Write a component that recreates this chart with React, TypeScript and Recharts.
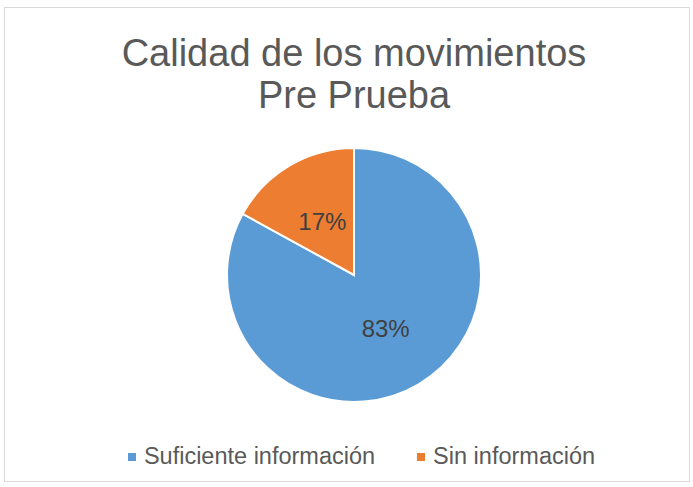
import React from 'react';
import { PieChart, Pie, Cell, Legend } from 'recharts';

const title = ['Calidad de los movimientos', 'Pre Prueba'];
const categories = ['Suficiente información', 'Sin información'];
const values = [83, 17];
const colors = ['#5B9BD5', '#ED7D31'];

const data = categories.map((name, i) => ({ name, value: values[i] }));

const RADIAN = Math.PI / 180;
const FONT = '"Liberation Sans", Arial, sans-serif';

const renderLabel = (props: any) => {
  const { cx, cy, midAngle, outerRadius, percent } = props;
  const r = outerRadius * 0.49;
  const x = cx + r * Math.cos(-midAngle * RADIAN);
  const y = cy + r * Math.sin(-midAngle * RADIAN);
  return (
    <text x={x} y={y} fill="#404040" fontSize={24} fontFamily={FONT}
      textAnchor="middle" dominantBaseline="central">
      {`${Math.round(percent * 100)}%`}
    </text>
  );
};

const renderLegend = (props: any) => {
  // keep the series order, not alphabetical
  const items = [...props.payload].sort(
    (a: any, b: any) => categories.indexOf(a.value) - categories.indexOf(b.value)
  );
  return (
    <div style={{ display: 'flex', justifyContent: 'center', paddingLeft: 30, fontFamily: FONT }}>
      {items.map((entry: any, index: number) => (
        <div key={index} style={{ display: 'flex', alignItems: 'center', marginRight: index === 0 ? 42 : 0 }}>
          <span style={{ display: 'inline-block', width: 8, height: 8, background: entry.color, marginRight: 8 }} />
          <span style={{ fontSize: 23.5, color: '#595959' }}>{entry.value}</span>
        </div>
      ))}
    </div>
  );
};

export default function App() {
  return (
    <div style={{ position: 'relative', width: 693, height: 487, background: '#fff' }}>
      <style>{'body{margin:0}'}</style>
      <div style={{ position: 'absolute', left: 4, top: 7, width: 684, height: 473, border: '1px solid #d9d9d9' }} />
      {title.map((line, i) => (
        <div key={i} style={{
          position: 'absolute', left: 0, width: 708, top: 34 + i * 42, textAlign: 'center',
          fontFamily: FONT, fontSize: 38, lineHeight: '38px', color: '#595959',
        }}>{line}</div>
      ))}
      <PieChart width={693} height={487} margin={{ top: 0, right: 0, bottom: 0, left: 0 }}
        style={{ position: 'absolute', left: 0, top: 0 }}>
        <Pie data={data} dataKey="value" nameKey="name" cx={354} cy={275} outerRadius={127}
          startAngle={90} endAngle={-270} stroke="#fff" strokeWidth={2}
          label={renderLabel} labelLine={false} isAnimationActive={false}>
          {data.map((d, i) => <Cell key={d.name} fill={colors[i]} />)}
        </Pie>
        <Legend content={renderLegend} wrapperStyle={{ top: 443, left: 0, width: 693 }} />
      </PieChart>
    </div>
  );
}
